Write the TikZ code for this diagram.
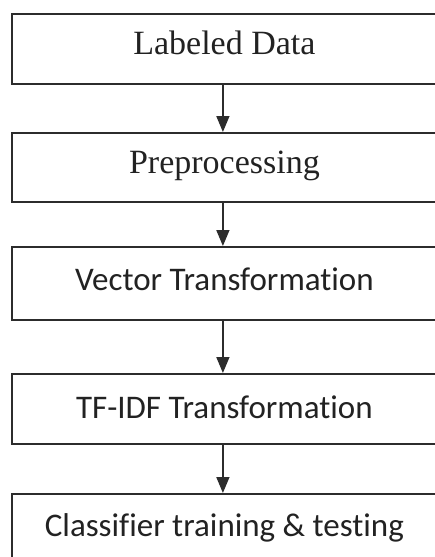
\documentclass[tikz,border=0pt]{standalone}
\usepackage{fontspec}
\setmainfont{Liberation Serif}
\newfontfamily\calfont[Ligatures={NoCommon}]{Carlito}
\usetikzlibrary{arrows.meta}
\definecolor{edge}{HTML}{2c2c2c}
\definecolor{ink}{HTML}{222222}
\begin{document}
\begin{tikzpicture}[x=1pt,y=1pt,
  stage/.style={draw=edge, line width=1.8pt, fill=white, text=ink,
    anchor=north west, minimum width=425pt, inner xsep=0pt, inner ysep=0pt,
    align=center},
  serifstage/.style={stage, font=\fontsize{34}{40}\selectfont},
  sansstage/.style={stage, font=\calfont\fontsize{33}{38}\selectfont},
  flow/.style={draw=edge, line width=1.5pt,
    -{Triangle[width=13pt,length=16pt]}}]
  \useasboundingbox (0,0) rectangle (435,-557);
  \clip (0,0) rectangle (435,-557);
  \fill[white] (0,0) rectangle (435,-557);

  \node[serifstage, text height=41pt, text depth=29pt] (labeled) at (11,-13) {Labeled Data};
  \node[serifstage, text height=41pt, text depth=28pt] (prep) at (11,-132) {Preprocessing};
  \node[sansstage, text height=44pt, text depth=29pt] (vector) at (11,-246) {Vector Transformation};
  \node[sansstage, text height=45pt, text depth=25pt] (tfidf) at (11,-373) {TF-IDF Transformation};
  \node[sansstage, text height=43pt, text depth=40pt] (clf) at (11,-493) {Classifier training \& testing};

  \draw[flow] ([xshift=-1.5pt]labeled.south) -- ([xshift=-1.5pt]prep.north);
  \draw[flow] ([xshift=-1.5pt]prep.south) -- ([xshift=-1.5pt]vector.north);
  \draw[flow] ([xshift=-1.5pt]vector.south) -- ([xshift=-1.5pt]tfidf.north);
  \draw[flow] ([xshift=-1.5pt]tfidf.south) -- ([xshift=-1.5pt]clf.north);
\end{tikzpicture}
\end{document}
